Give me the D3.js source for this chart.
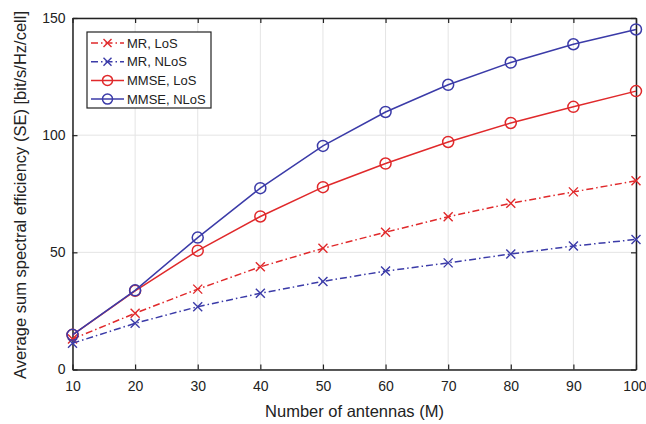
<!DOCTYPE html>
<html>
<meta charset="utf-8">
<head>
  <script src="https://d3js.org/d3.v7.min.js"></script>
  <style>
    body { margin: 0; background: #fff; }
    text { font-family: "Liberation Sans", Arial, sans-serif; fill: #222; }
  </style>
</head>
<body>
<div id="chart"></div>
<script>
  var antennas = [10, 20, 30, 40, 50, 60, 70, 80, 90, 100];
  var mrLoS    = [13, 24, 34.3, 43.8, 51.7, 58.6, 65.2, 70.9, 75.8, 80.5];
  var mrNLoS   = [11.2, 19.7, 26.8, 32.5, 37.6, 42, 45.5, 49.3, 52.7, 55.5];
  var mmseLoS  = [14.8, 33.6, 50.7, 65.3, 77.8, 87.9, 97.1, 105.2, 112.1, 118.8];
  var mmseNLoS = [14.8, 33.8, 56.3, 77.4, 95.4, 109.9, 121.5, 131, 138.8, 145.1];
  var xTicks = [10, 20, 30, 40, 50, 60, 70, 80, 90, 100];
  var yTicks = [0, 50, 100, 150];

  var series = [
    { name: "MR, LoS",     values: mrLoS,    color: "#e0292b", dash: "7,3,1.5,3", marker: "x" },
    { name: "MR, NLoS",    values: mrNLoS,   color: "#3b3ba8", dash: "7,3,1.5,3", marker: "x" },
    { name: "MMSE, LoS",   values: mmseLoS,  color: "#e0292b", dash: null,        marker: "o" },
    { name: "MMSE, NLoS",  values: mmseNLoS, color: "#3b3ba8", dash: null,        marker: "o" }
  ];

  var W = 646, H = 424;
  var m = { left: 72.5, right: 10, top: 18, bottom: 54.5 };

  var svg = d3.select("#chart").append("svg")
      .attr("width", W).attr("height", H);

  var x = d3.scaleLinear().domain([10, 100]).range([m.left, W - m.right]);
  var y = d3.scaleLinear().domain([0, 150]).range([H - m.bottom, m.top]);

  // grid
  svg.append("g").selectAll("line.gx").data(xTicks).enter().append("line")
    .attr("x1", d => x(d)).attr("x2", d => x(d))
    .attr("y1", y(0)).attr("y2", y(150))
    .attr("stroke", "#e4e4e4").attr("stroke-width", 1);
  svg.append("g").selectAll("line.gy").data(yTicks).enter().append("line")
    .attr("x1", x(10)).attr("x2", x(100))
    .attr("y1", d => y(d)).attr("y2", d => y(d))
    .attr("stroke", "#e4e4e4").attr("stroke-width", 1);

  // axes
  var xAxis = svg.append("g").attr("transform", "translate(0," + y(0) + ")")
    .call(d3.axisBottom(x).tickValues(xTicks).tickSizeInner(-5).tickSizeOuter(0).tickPadding(12));
  var xTop = svg.append("g").attr("transform", "translate(0," + y(150) + ")")
    .call(d3.axisTop(x).tickValues(xTicks).tickSizeInner(-5).tickSizeOuter(0).tickFormat(""));
  var yAxis = svg.append("g").attr("transform", "translate(" + x(10) + ",0)")
    .call(d3.axisLeft(y).tickValues(yTicks).tickSizeInner(-5).tickSizeOuter(0).tickPadding(7));
  var yRight = svg.append("g").attr("transform", "translate(" + x(100) + ",0)")
    .call(d3.axisRight(y).tickValues(yTicks).tickSizeInner(-5).tickSizeOuter(0).tickFormat(""));

  [xAxis, xTop, yAxis, yRight].forEach(function(g) {
    g.select(".domain").attr("stroke", "#222").attr("stroke-width", 1.5);
    g.selectAll(".tick line").attr("stroke", "#222").attr("stroke-width", 1.2);
    g.selectAll("text").attr("font-size", 14).attr("fill", "#222")
      .style("font-family", "Liberation Sans, Arial, sans-serif");
  });
  // keep the last label inside the window
  xAxis.selectAll(".tick text").filter(d => d === 100).attr("text-anchor", "end").attr("dx", 10);

  var line = d3.line()
    .x((d, i) => x(antennas[i]))
    .y(d => y(d));

  function drawMarker(g, type, cx, cy, color, r) {
    if (type === "o") {
      g.append("circle").attr("cx", cx).attr("cy", cy).attr("r", r)
        .attr("fill", "none").attr("stroke", color).attr("stroke-width", 1.5);
    } else {
      g.append("path")
        .attr("d", "M" + (cx - r) + "," + (cy - r) + "L" + (cx + r) + "," + (cy + r) +
                   "M" + (cx - r) + "," + (cy + r) + "L" + (cx + r) + "," + (cy - r))
        .attr("stroke", color).attr("stroke-width", 1.4);
    }
  }

  series.forEach(function(s) {
    var g = svg.append("g");
    g.append("path").attr("d", line(s.values))
      .attr("fill", "none").attr("stroke", s.color).attr("stroke-width", 1.5)
      .attr("stroke-dasharray", s.dash);
    s.values.forEach(function(v, i) {
      drawMarker(g, s.marker, x(antennas[i]), y(v), s.color, s.marker === "o" ? 5.5 : 4.5);
    });
  });

  // legend
  var lg = svg.append("g");
  lg.append("rect").attr("x", 87).attr("y", 32).attr("width", 124).attr("height", 76)
    .attr("fill", "#fff").attr("stroke", "#222").attr("stroke-width", 1.2);
  series.forEach(function(s, i) {
    var ly = 43 + i * 18.7;
    lg.append("line").attr("x1", 91).attr("x2", 124).attr("y1", ly).attr("y2", ly)
      .attr("stroke", s.color).attr("stroke-width", 1.5).attr("stroke-dasharray", s.dash);
    drawMarker(lg, s.marker, 107.5, ly, s.color, s.marker === "o" ? 5 : 4);
    lg.append("text").attr("x", 127).attr("y", ly + 4.7).attr("font-size", 13).text(s.name);
  });

  // labels
  svg.append("text").attr("x", 354.5).attr("y", 417)
    .attr("text-anchor", "middle").attr("font-size", 16.5).text("Number of antennas (M)");
  svg.append("text").attr("transform", "translate(26,195) rotate(-90)")
    .attr("text-anchor", "middle").attr("font-size", 16.5)
    .text("Average sum spectral efficiency (SE) [bit/s/Hz/cell]");
</script>
</body>
</html>
